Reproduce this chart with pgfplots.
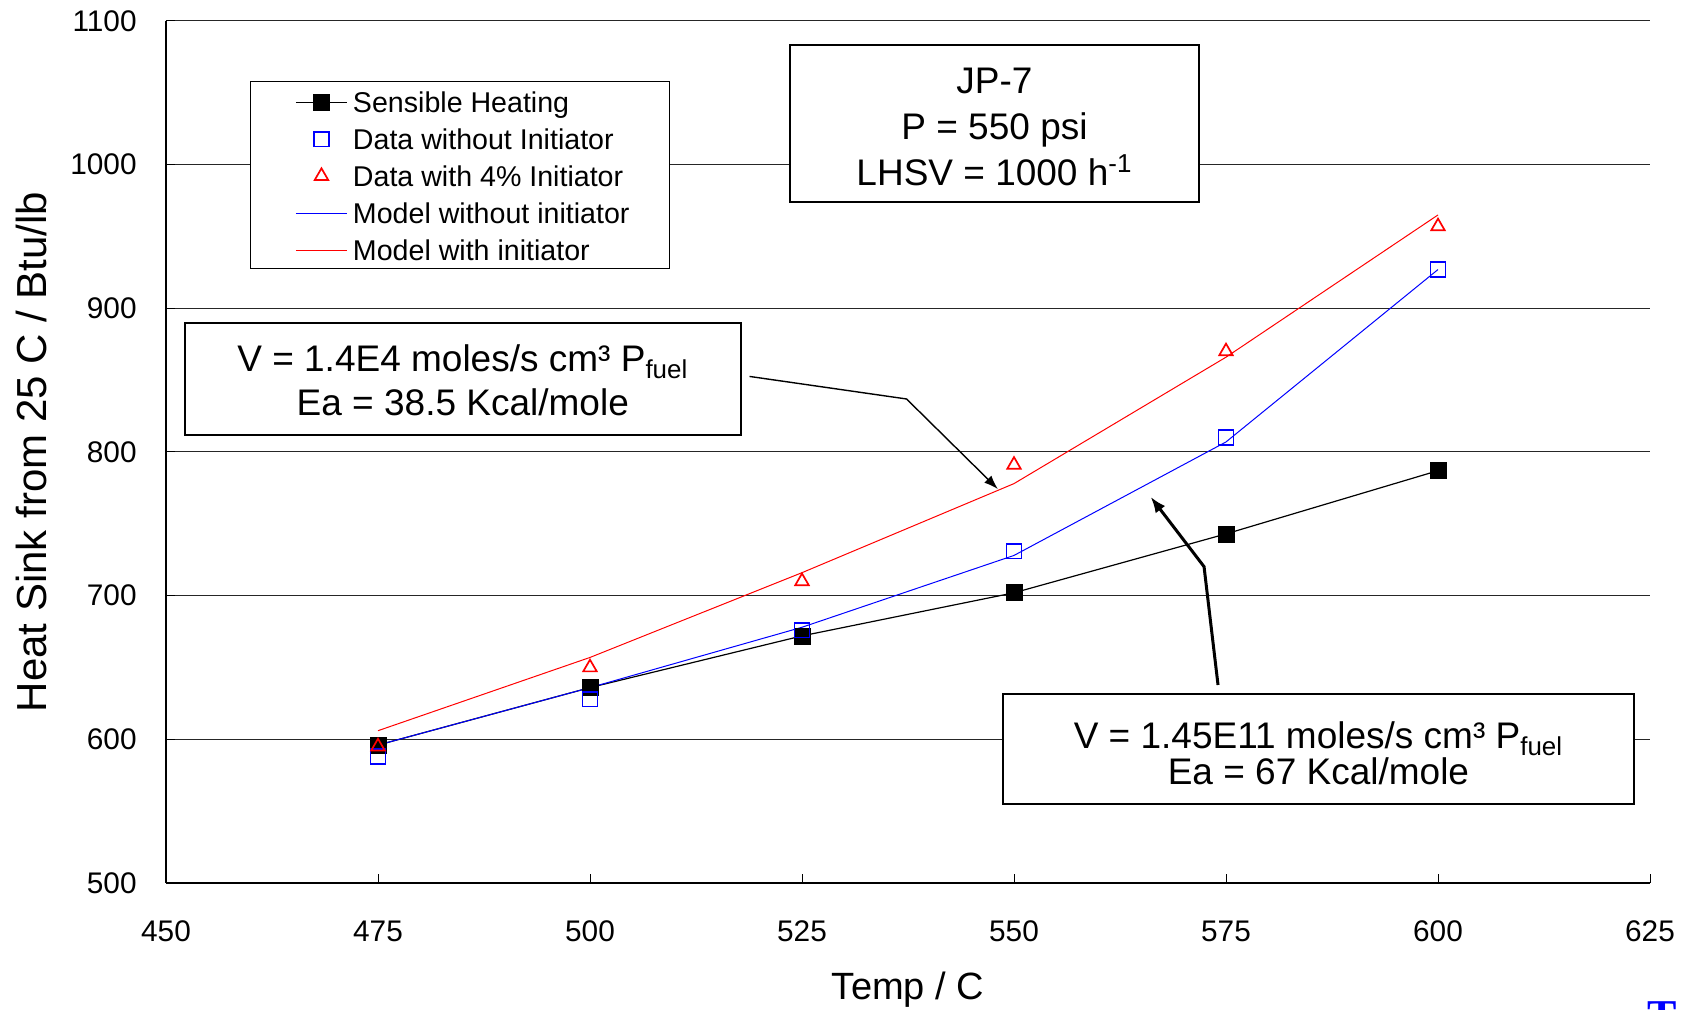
\documentclass[border=0pt]{standalone}
\usepackage{fontspec}
\setmainfont{Liberation Sans}
\newfontfamily\logofont{Liberation Serif}
\usepackage{pgfplots}
\pgfplotsset{compat=1.18}
\usetikzlibrary{arrows.meta}

\begin{document}
\begin{tikzpicture}
\begin{axis}[
    scale only axis, width=742pt, height=431pt,
    xmin=450, xmax=625, ymin=500, ymax=1100,
    xtick={450,475,...,625}, ytick={500,600,...,1100},
    axis x line*=bottom, axis y line*=left,
    axis line style={line width=0.65pt},
    tick align=inside, major tick length=4.7pt,
    tick style={black, line width=0.5pt},
    ymajorgrids, major grid style={black!85, line width=0.5pt},
    /pgf/number format/assume math mode=true,
    /pgf/number format/set thousands separator={},
    tick label style={font=\fontsize{14.9}{17}\selectfont, inner sep=0pt},
    xticklabel style={anchor=center, yshift=-24pt},
    yticklabel style={anchor=east, xshift=-14.5pt},
    xlabel={Temp / C},
    ylabel={Heat Sink from 25 C / Btu/lb},
    xlabel style={font=\fontsize{19}{22}\selectfont, at={(axis description cs:0.5,-0.1357)}, anchor=base},
    ylabel style={font=\fontsize{21}{24}\selectfont, at={(axis description cs:-0.0802,0.5)}, anchor=base},
    legend cell align=left,
    legend style={at={(axis cs:465.21,1056.7)}, anchor=north west,
        draw=none, fill=none, inner sep=0pt,
        font=\fontsize{14.3}{16}\selectfont, row sep=0pt, column sep=2.7pt,
        nodes={inner sep=0pt, text height=14.25pt, text depth=4.25pt}},
    legend image code/.code={\draw[mark repeat=2,mark phase=2,#1]
        plot coordinates {(0pt,0pt)(12.75pt,0pt)(25.5pt,0pt)};},
]
% legend frame (drawn by hand so its size matches)
\draw[line width=0.5pt, fill=white] (axis cs:460,1058.2) rectangle (axis cs:509.43,927.4);

\addplot[black, line width=0.6pt, mark=square*, mark size=4pt,
    mark options={solid, line width=0.3pt}] coordinates {
(475,596)(500,636)(525,672)(550,702)(575,743)(600,787)
};
\addlegendentry{Sensible Heating}
\addplot[only marks, blue, mark=square, mark size=3.7pt,
    mark options={line width=0.85pt}] coordinates {
(475,588)(500,628)(525,676)(550,731)(575,810)(600,927)
};
\addlegendentry{Data without Initiator}
\addplot[only marks, red, mark=triangle, mark size=3.9pt,
    mark options={line width=0.85pt}] coordinates {
(475,595)(500,650)(525,710)(550,791)(575,870)(600,957)
};
\addlegendentry{Data with 4\% Initiator}
\addplot[blue, line width=0.5pt, no marks] coordinates {
(475,596)(500,636)(525,678)(550,728)(575,807)(600,927)
};
\addlegendentry{Model without initiator}
\addplot[red, line width=0.5pt, no marks] coordinates {
(475,606)(500,657)(525,716)(550,778)(575,866)(600,965)
};
\addlegendentry{Model with initiator}

% text boxes
\draw[line width=1pt, fill=white] (axis cs:523.58,1083.3) rectangle (axis cs:571.82,974.0);
\node[anchor=base, font=\fontsize{18.5}{22}\selectfont] at (axis cs:547.7,1049.7) {JP-7};
\node[anchor=base, font=\fontsize{18.5}{22}\selectfont] at (axis cs:547.7,1017.2) {P = 550 psi};
\node[anchor=base, font=\fontsize{18.5}{22}\selectfont] at (axis cs:547.7,985.8) {LHSV = 1000 h\textsuperscript{-1}};

\draw[line width=1pt, fill=white] (axis cs:452.24,890.1) rectangle (axis cs:517.81,811.5);
\node[anchor=base, font=\fontsize{18.5}{22}\selectfont] at (axis cs:485.0,856.0) {V = 1.4E4 moles/s cm³ P\textsubscript{fuel}};
\node[anchor=base, font=\fontsize{18.5}{22}\selectfont] at (axis cs:485.0,825.4) {Ea = 38.5 Kcal/mole};

\draw[line width=1pt, fill=white] (axis cs:548.70,631.8) rectangle (axis cs:623.11,554.8);
\node[anchor=base, font=\fontsize{18.5}{22}\selectfont] at (axis cs:585.9,593.3) {V = 1.45E11 moles/s cm³ P\textsubscript{fuel}};
\node[anchor=base, font=\fontsize{18.5}{22}\selectfont] at (axis cs:585.9,568.5) {Ea = 67 Kcal/mole};

% callout arrows
\draw[line width=0.7pt, -{Latex[length=7pt,width=5pt]}]
    (axis cs:518.81,852.6) -- (axis cs:537.33,836.9) -- (axis cs:548.10,774.2);
\draw[line width=1.5pt, -{Latex[length=8pt,width=6pt]}]
    (axis cs:574.06,637.8) -- (axis cs:572.41,720.2) -- (axis cs:566.11,768.8);
\end{axis}
\pgfresetboundingbox
\path[use as bounding box] ([shift={(-83pt,-63.5pt)}]current axis.south west) rectangle ++(843pt,505pt);
\node[anchor=north west, inner sep=0pt, text=blue, font=\fontsize{22}{24}\logofont\bfseries\selectfont]
    at ([shift={(740.5pt,-59pt)}]current axis.south west) {T};
\end{tikzpicture}
\end{document}
